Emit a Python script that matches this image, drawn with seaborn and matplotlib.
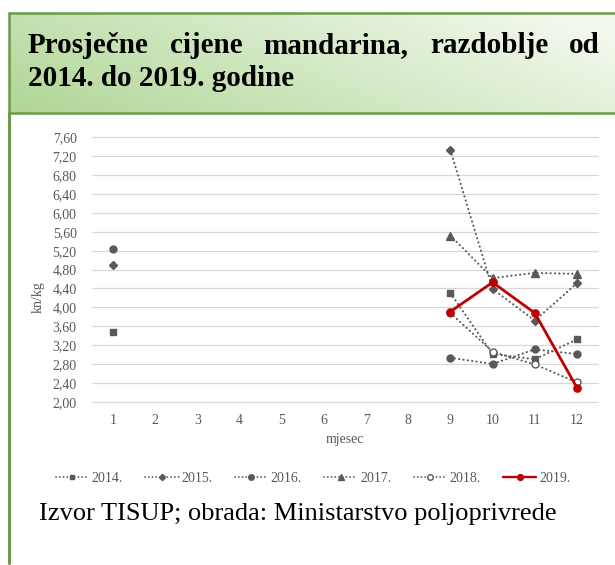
import numpy as np
import pandas as pd
import matplotlib
matplotlib.use("Agg")
import matplotlib.pyplot as plt
from matplotlib.lines import Line2D
from matplotlib.patches import Rectangle
import seaborn as sns

sns.set_theme(style="white")
plt.rcParams["font.family"] = ["Liberation Serif", "DejaVu Serif"]

nan = np.nan
months = list(range(1, 13))
month_labels = [str(m) for m in months]
y_ticks = [2.0, 2.4, 2.8, 3.2, 3.6, 4.0, 4.4, 4.8, 5.2, 5.6, 6.0, 6.4, 6.8, 7.2, 7.6]

p2014 = [3.48, nan, nan, nan, nan, nan, nan, nan, 4.30, 3.01, 2.90, 3.32]
p2015 = [4.89, nan, nan, nan, nan, nan, nan, nan, 7.33, 4.39, 3.72, 4.51]
p2016 = [5.24, nan, nan, nan, nan, nan, nan, nan, 2.93, 2.80, 3.11, 3.01]
p2017 = [nan, nan, nan, nan, nan, nan, nan, nan, 5.52, 4.62, 4.73, 4.71]
p2018 = [nan, nan, nan, nan, nan, nan, nan, nan, 3.88, 3.06, 2.79, 2.41]
p2019 = [nan, nan, nan, nan, nan, nan, nan, nan, 3.91, 4.53, 3.88, 2.30]

years = ["2014.", "2015.", "2016.", "2017.", "2018.", "2019."]
series = [p2014, p2015, p2016, p2017, p2018, p2019]

GRAY = "#595959"
RED = "#C00000"
GREEN = "#6B9A48"
DOT = (0, (0.1, 2.0))

styles = {
    "2014.": dict(color=GRAY, marker="s", ms=4.4, mfc=GRAY, mec=GRAY, ls=DOT, lw=1.5),
    "2015.": dict(color=GRAY, marker="D", ms=4.0, mfc=GRAY, mec=GRAY, ls=DOT, lw=1.5),
    "2016.": dict(color=GRAY, marker="o", ms=5.0, mfc=GRAY, mec=GRAY, ls=DOT, lw=1.5),
    "2017.": dict(color=GRAY, marker="^", ms=5.4, mfc=GRAY, mec=GRAY, ls=DOT, lw=1.5),
    "2018.": dict(color=GRAY, marker="o", ms=5.0, mfc="white", mec=GRAY, ls=DOT, lw=1.5),
    "2019.": dict(color=RED, marker="o", ms=5.2, mfc=RED, mec=RED, ls="-", lw=2.0),
}

W, H = 615, 565
fig = plt.figure(figsize=(W / 100, H / 100), dpi=100)
fig.patch.set_facecolor("white")


def px(x, y):
    return x / W, 1 - y / H


# header band with a soft green gradient
hx0, hy0, hx1, hy1 = 9, 13, 615, 113
hax = fig.add_axes([hx0 / W, 1 - hy1 / H, (hx1 - hx0) / W, (hy1 - hy0) / H])
gx = np.linspace(0, 1, 300)
gy = np.linspace(0, 1, 60)
GX, GY = np.meshgrid(gx, gy)
t = np.clip(0.78 * GX + 0.30 * (1 - GY), 0, 1)  # GY=0 at top row
dark = np.array([0.69, 0.84, 0.59])
light = np.array([0.95, 0.975, 0.93])
img = dark[None, None, :] * (1 - t[..., None]) + light[None, None, :] * t[..., None]
hax.imshow(img, aspect="auto", extent=[0, 1, 0, 1], origin="upper")
hax.set_xlim(0, 1)
hax.set_ylim(0, 1)
hax.axis("off")
fig.add_artist(Rectangle(px(hx0, hy1), (hx1 + 5 - hx0) / W, (hy1 - hy0) / H,
                         transform=fig.transFigure, fill=False, ec=GREEN, lw=1.8,
                         clip_on=False))
# left border of the body panel
fig.add_artist(Line2D([px(9, 0)[0]] * 2, [px(0, 113)[1], px(0, 563)[1]],
                      transform=fig.transFigure, color=GREEN, lw=2.2))

# justified first title line, second line left-aligned
title_fs = 21
line1 = ["Prosječne", "cijene", "mandarina,", "razdoblje", "od"]
x_left, x_right, base1, base2 = 28, 600, 53, 86
renderer = fig.canvas.get_renderer()
widths = []
tmp = []
for w in line1:
    tt = fig.text(0, 0, w, fontsize=title_fs, fontweight="bold")
    widths.append(tt.get_window_extent(renderer).width)
    tmp.append(tt)
for tt in tmp:
    tt.remove()
gap = (x_right - x_left - sum(widths)) / (len(line1) - 1)
cx = x_left
for w, wd in zip(line1, widths):
    fig.text(*px(cx, base1), w, fontsize=title_fs, fontweight="bold",
             color="black", va="baseline", ha="left")
    cx += wd + gap
fig.text(*px(x_left, base2), "2014. do 2019. godine", fontsize=title_fs,
         fontweight="bold", color="black", va="baseline", ha="left")

# chart area
ax = fig.add_axes([92 / W, 1 - 401.7 / H, (598 - 92) / W, (401.7 - 137.5) / H])
ax.set_facecolor("white")

for yr, vals in zip(years, series):
    st = styles[yr]
    df = pd.DataFrame({"mjesec": months, "cijena": vals})
    seg_id = df["cijena"].isna().cumsum()
    z = 5 if yr == "2019." else 3
    for _, seg in df.dropna().groupby(seg_id[df["cijena"].notna()]):
        sns.lineplot(data=seg, x="mjesec", y="cijena", ax=ax, color=st["color"],
                     linestyle=st["ls"], linewidth=st["lw"], marker=st["marker"],
                     markersize=st["ms"], markerfacecolor=st["mfc"],
                     markeredgecolor=st["mec"], markeredgewidth=1.0,
                     dash_capstyle="round", zorder=z, legend=False,
                     estimator=None, sort=False)

ax.set_xlim(0.5, 12.5)
ax.set_ylim(2.0, 7.6)
ax.set_xticks(months)
ax.set_xticklabels(month_labels)
ax.set_yticks(y_ticks)
ax.set_yticklabels([f"{v:.2f}".replace(".", ",") for v in y_ticks])
ax.tick_params(axis="both", length=0, labelsize=10, labelcolor=GRAY)
ax.tick_params(axis="y", pad=11)
ax.tick_params(axis="x", pad=9)
ax.grid(axis="y", color="#D9D9D9", lw=0.9)
ax.grid(axis="x", visible=False)
for s in ax.spines.values():
    s.set_visible(False)
for gl in ax.get_ygridlines():
    gl.set_clip_on(False)
ax.set_xlabel("")
ax.set_ylabel("")

fig.text(*px(345, 440), "mjesec", fontsize=10, color=GRAY, ha="center", va="center")
fig.text(*px(38, 297), "kn/kg", fontsize=10, color=GRAY, ha="center", va="center",
         rotation=90)

# legend
handles = []
for yr in years:
    st = styles[yr]
    handles.append(Line2D([], [], color=st["color"], linestyle=st["ls"],
                          lw=st["lw"] * 0.85, marker=st["marker"],
                          markersize=st["ms"] * 0.8,
                          markerfacecolor=st["mfc"], markeredgecolor=st["mec"],
                          dash_capstyle="round"))
leg = fig.legend(handles, years, loc="center", bbox_to_anchor=px(313, 478), ncol=6,
                 frameon=False, fontsize=10, handlelength=2.4, handletextpad=0.2,
                 columnspacing=1.6, labelcolor=GRAY)

fig.text(*px(39, 520), "Izvor TISUP; obrada: Ministarstvo poljoprivrede",
         fontsize=19, color="black", ha="left", va="baseline")

fig.savefig("out.png", dpi=100, facecolor="white")
